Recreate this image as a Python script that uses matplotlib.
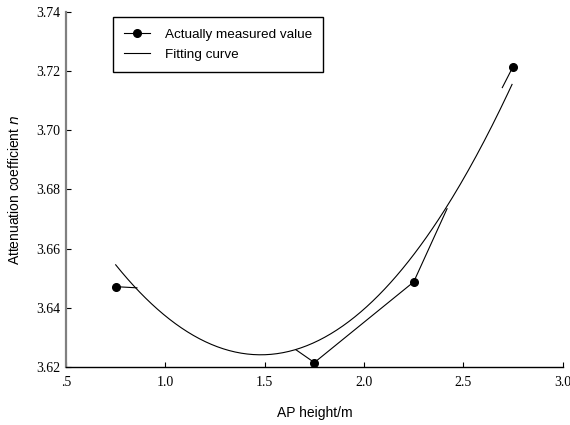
import numpy as np
import matplotlib
matplotlib.use('Agg')
import matplotlib.pyplot as plt
from matplotlib.lines import Line2D
from matplotlib.ticker import FuncFormatter

# measured points
height = [0.75, 1.75, 2.25, 2.75]
measured = [3.6471, 3.6214, 3.6487, 3.7216]

# visible pieces of the line joining the measured points (nan = gap)
link_x = [0.75, 0.857, np.nan, 1.658, 1.75, 2.25, 2.418, np.nan, 2.696, 2.75]
link_y = [3.6471, 3.6467, np.nan, 3.6257, 3.6214, 3.6487, 3.6735, np.nan, 3.7145, 3.7216]

# quadratic fitting curve  n = a*h^2 + b*h + c
fit_coef = [0.0572, -0.1693, 3.7493]
fit_range = [0.75, 2.745]

xticks = [0.5, 1.0, 1.5, 2.0, 2.5, 3.0]
yticks = [3.62, 3.64, 3.66, 3.68, 3.70, 3.72, 3.74]

sans = 'Liberation Sans'
serif = 'Liberation Serif'

fig = plt.figure(figsize=(5.7, 4.25), dpi=100)
ax = fig.add_axes([0.1158, 0.1372, 0.8714, 0.8339])

hx = np.linspace(fit_range[0], fit_range[1], 200)
ax.plot(hx, np.polyval(fit_coef, hx), color='black', lw=0.8)
ax.plot(link_x, link_y, color='black', lw=0.8)
ax.plot(height, measured, 'o', color='black', ms=5.5, clip_on=False)

ax.set_xlim(0.5, 3.0)
ax.set_ylim(3.62, 3.74)
ax.set_xticks(xticks)
ax.set_yticks(yticks)

def xfmt(v, pos):
    s = '%.1f' % v
    return s[1:] if s.startswith('0') else s

ax.xaxis.set_major_formatter(FuncFormatter(xfmt))
ax.yaxis.set_major_formatter(FuncFormatter(lambda v, p: '%.2f' % v))

ax.spines['top'].set_visible(False)
ax.spines['right'].set_visible(False)
ax.spines['left'].set_color('#808080')
ax.spines['left'].set_linewidth(1.6)
ax.spines['bottom'].set_linewidth(1.0)
ax.tick_params(axis='both', direction='in', length=3.5, width=0.8, labelsize=10)
ax.tick_params(axis='x', pad=7)
ax.tick_params(axis='y', pad=4)
for lab in ax.get_xticklabels() + ax.get_yticklabels():
    lab.set_fontfamily(serif)

ax.set_xlabel('AP height/m', fontfamily=sans, fontsize=10, labelpad=12)
ax.set_ylabel('Attenuation coefficient $\\it{n}$', fontfamily=sans, fontsize=10, labelpad=10)

handles = [Line2D([], [], color='black', lw=0.8, marker='o', ms=5.5),
           Line2D([], [], color='black', lw=0.8)]
leg = ax.legend(handles, ['Actually measured value', 'Fitting curve'],
                loc='upper left', bbox_to_anchor=(0.0946, 0.9867), borderaxespad=0,
                fancybox=False, framealpha=1, edgecolor='black',
                prop={'family': sans, 'size': 9.7}, handlelength=1.9,
                handletextpad=1.1, labelspacing=0.55, borderpad=0.85)
leg.get_frame().set_linewidth(1.0)

fig.savefig('out.png', dpi=100)
